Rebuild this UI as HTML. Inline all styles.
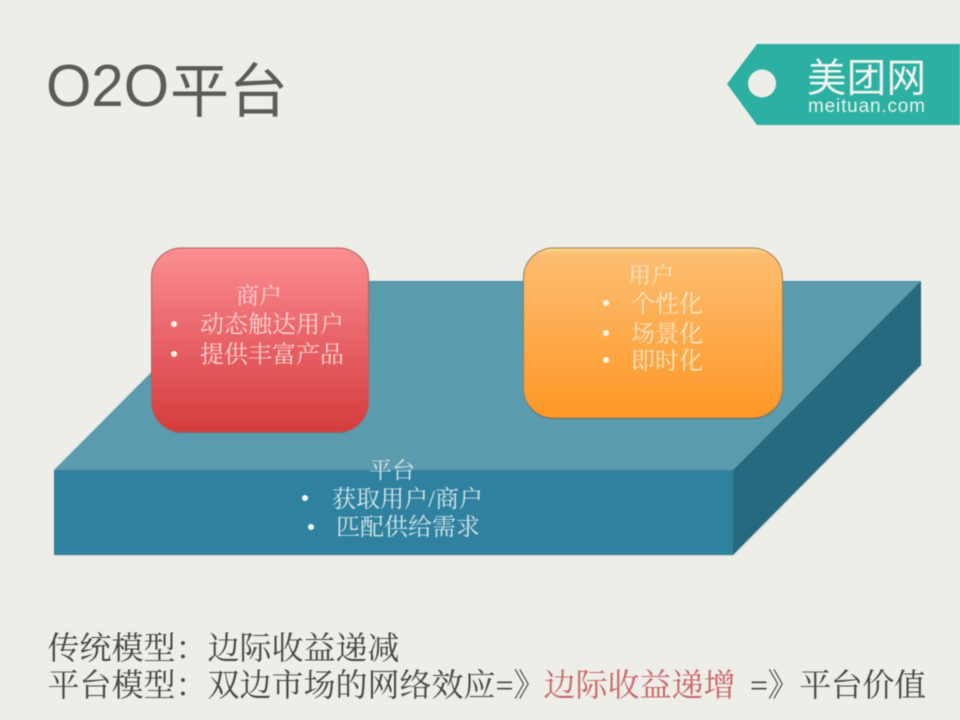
<!DOCTYPE html>
<html lang="zh">
<head>
<meta charset="utf-8">
<title>O2O平台</title>
<style>
html,body{margin:0;padding:0;background:#eeeee8;width:960px;height:720px;overflow:hidden}
svg{display:block;filter:blur(.5px)}
.s{font-family:"Liberation Serif","Noto Serif CJK SC",serif}
.l{font-family:"Liberation Sans","Noto Sans CJK SC",sans-serif}
</style>
</head>
<body>
<svg width="960" height="720" viewBox="0 0 960 720" xmlns="http://www.w3.org/2000/svg">
<defs>
<linearGradient id="r" x1="0" y1="0" x2="0" y2="1">
<stop offset="0" stop-color="#fb8f93"/><stop offset=".5" stop-color="#e86368"/><stop offset="1" stop-color="#d53c3c"/>
</linearGradient>
<linearGradient id="o" x1="0" y1="0" x2="0" y2="1">
<stop offset="0" stop-color="#fed98f"/><stop offset=".04" stop-color="#fdbd70"/><stop offset="1" stop-color="#fe9726"/>
</linearGradient>
</defs>
<rect width="960" height="720" fill="#eeeee8"/>

<!-- title -->
<text class="l" x="46" y="106" font-size="59" fill="#5c5c57" textLength="123" lengthAdjust="spacingAndGlyphs">O2O</text>
<text class="l" x="170" y="112" font-size="59" fill="#5c5c57">平台</text>

<!-- logo -->
<polygon points="757,44 960,44 960,125 757,125 727,84" fill="#2bb0a2"/>
<circle cx="762" cy="83.500" r="14" fill="#eeeee8"/>
<text class="l" x="807" y="92" font-size="39.500" fill="#f1f5f0" textLength="119">美团网</text>
<text class="l" x="808" y="112" font-size="19" fill="#eaf3ee" textLength="117">meituan.com</text>

<!-- slab -->
<polygon points="54,472 55,556.500 734,556.500 922,366 921,283" fill="#b9b9b0" opacity=".3"/>
<polygon points="54,470 242,281 921,281 733,470" fill="#5a9bad"/>
<polygon points="54,470 733,470 733,555 54,555" fill="#2f819f"/>
<polygon points="733,470 921,281 921,365 733,555" fill="#276a80"/>
<line x1="242" y1="281.500" x2="921" y2="281.500" stroke="#468aa5" stroke-width="1"/>

<!-- merchant -->
<rect x="151.500" y="248" width="217" height="184" rx="30" ry="30" fill="#6a3030" opacity=".5" transform="translate(0,1)"/>
<rect x="151.500" y="248" width="217" height="184" rx="30" ry="30" fill="url(#r)" stroke="#b0605f" stroke-width="1"/>
<g class="s" font-size="24" fill="#fbd4d2">
<text x="236" y="303.500" font-size="23">商户</text>
<text x="200" y="332.500">动态触达用户</text>
<text x="200" y="362.500">提供丰富产品</text>
</g>
<circle cx="174" cy="324" r="3" fill="#fff2f0"/>
<circle cx="174" cy="354" r="3" fill="#fff2f0"/>

<!-- user -->
<rect x="523.500" y="248" width="259" height="170" rx="30" ry="30" fill="#5a3a18" opacity=".6" transform="translate(0,1)"/>
<rect x="523.500" y="248" width="259" height="170" rx="30" ry="30" fill="url(#o)" stroke="#9a7f55" stroke-width="1"/>
<g class="s" font-size="24" fill="#fde6c4">
<text x="628" y="283" font-size="23">用户</text>
<text x="631" y="312">个性化</text>
<text x="631" y="342">场景化</text>
<text x="631" y="369">即时化</text>
</g>
<circle cx="606" cy="303" r="3" fill="#fff6e6"/>
<circle cx="606" cy="333" r="3" fill="#fff6e6"/>
<circle cx="606" cy="360" r="3" fill="#fff6e6"/>

<!-- platform -->
<g class="s" font-size="24" fill="#d3e6ea">
<text x="369" y="478" font-size="23">平台</text>
<text x="332" y="507" textLength="151">获取用户/商户</text>
<text x="336" y="535">匹配供给需求</text>
</g>
<circle cx="305" cy="498" r="3" fill="#f2fafa"/>
<circle cx="311" cy="527" r="3" fill="#f2fafa"/>

<!-- footer -->
<g class="s" font-size="32" fill="#464642">
<text x="47.500" y="659">传统模型：边际收益递减</text>
<text x="47.500" y="696">平台模型：双边市场的网络效应=》</text>
<text x="543.500" y="696" fill="#c9666a">边际收益递增</text>
<text x="750" y="696" textLength="176">=》平台价值</text>
</g>
</svg>
</body>
</html>
